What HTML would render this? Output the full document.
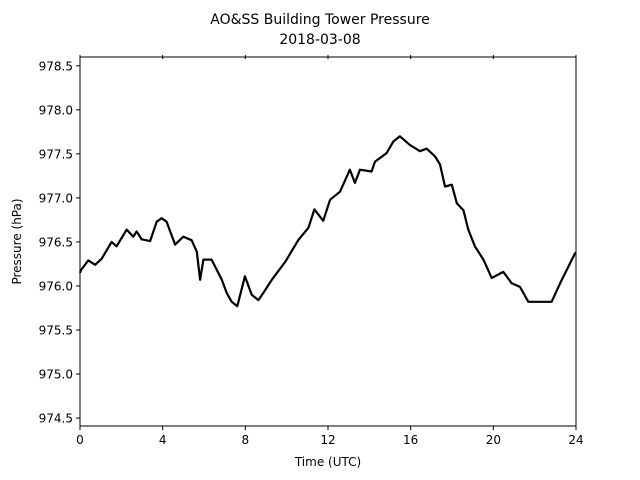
<!DOCTYPE html>
<html><head><meta charset="utf-8">
<style>
body{margin:0;background:#fff;}
svg{display:block;font-family:"DejaVu Sans","Liberation Sans",sans-serif;}
</style></head>
<body>
<svg id="chart" width="640" height="480" viewBox="0 0 640 480">
<rect width="640" height="480" fill="#fff"/>
<text x="320" y="24" text-anchor="middle" font-size="14">AO&amp;SS Building Tower Pressure</text>
<text x="320" y="44" text-anchor="middle" font-size="14">2018-03-08</text>
<g id="axes"></g>
<text x="328" y="466" text-anchor="middle" font-size="12">Time (UTC)</text>
<text transform="translate(21,241.5) rotate(-90)" text-anchor="middle" font-size="12">Pressure (hPa)</text>
</svg>
<script>
const hours = [0,0.05,0.4,0.73,1.05,1.53,1.77,2.26,2.58,2.74,2.98,3.39,3.71,3.95,4.19,4.6,5.0,5.4,5.65,5.81,5.97,6.37,6.86,7.1,7.34,7.61,7.98,8.31,8.63,8.95,9.28,9.95,10.56,11.05,11.34,11.77,12.1,12.58,13.06,13.3,13.55,14.11,14.27,14.84,15.16,15.48,15.97,16.45,16.77,17.18,17.42,17.66,17.99,18.23,18.55,18.79,19.11,19.52,19.92,20.48,20.89,21.29,21.69,22.42,22.82,23.23,23.63,23.95,24];
const pressure = [976.15,976.18,976.29,976.24,976.31,976.50,976.45,976.64,976.56,976.62,976.53,976.51,976.73,976.77,976.73,976.47,976.56,976.52,976.39,976.07,976.30,976.30,976.07,975.92,975.82,975.77,976.11,975.90,975.84,975.95,976.07,976.28,976.52,976.66,976.87,976.74,976.98,977.07,977.32,977.17,977.32,977.30,977.41,977.51,977.64,977.70,977.60,977.53,977.56,977.47,977.38,977.13,977.15,976.94,976.86,976.64,976.45,976.30,976.09,976.16,976.03,975.99,975.82,975.82,975.82,976.03,976.22,976.37,976.38];
const xTicks = [0,4,8,12,16,20,24];
const yTicks = [974.5,975.0,975.5,976.0,976.5,977.0,977.5,978.0,978.5];

const L=80,R=576,T=57,B=426,xMin=0,xMax=24,yMin=974.41,yMax=978.6;
const xs=v=>L+(v-xMin)/(xMax-xMin)*(R-L);
const ys=v=>B-(v-yMin)/(yMax-yMin)*(B-T);
const NS="http://www.w3.org/2000/svg";
const g=document.getElementById('axes');
function mk(tag,attrs){const e=document.createElementNS(NS,tag);for(const k in attrs)e.setAttribute(k,attrs[k]);g.appendChild(e);return e;}

let d='';
hours.forEach((h,i)=>{d+=(i?'L':'M')+xs(h).toFixed(1)+','+ys(pressure[i]).toFixed(1);});
const line=mk('path',{d:d,fill:'none',stroke:'#000','stroke-width':2.2,'stroke-linejoin':'round'});



const frame=mk('rect',{x:L,y:T,width:R-L,height:B-T,fill:'none',stroke:'#000','stroke-width':1});



xTicks.forEach(t=>{
  const x=xs(t);
  const tk=mk('line',{x1:x,y1:B,x2:x,y2:B+4,stroke:'#000'});
  
  
  const tt=mk('line',{x1:x,y1:T-2,x2:x,y2:T+2,stroke:'#000'});
  
  
  const lb=mk('text',{x:x,y:B+18,'text-anchor':'middle','font-size':12});
  lb.textContent=String(t);
  
  
});
yTicks.forEach(t=>{
  const y=ys(t);
  const tk=mk('line',{x1:L-4,y1:y,x2:L,y2:y,stroke:'#000'});
  
  
  const lb=mk('text',{x:L-7,y:y+4.5,'text-anchor':'end','font-size':12});
  lb.textContent=t.toFixed(1);
  
  
});
</script>
</body></html>
